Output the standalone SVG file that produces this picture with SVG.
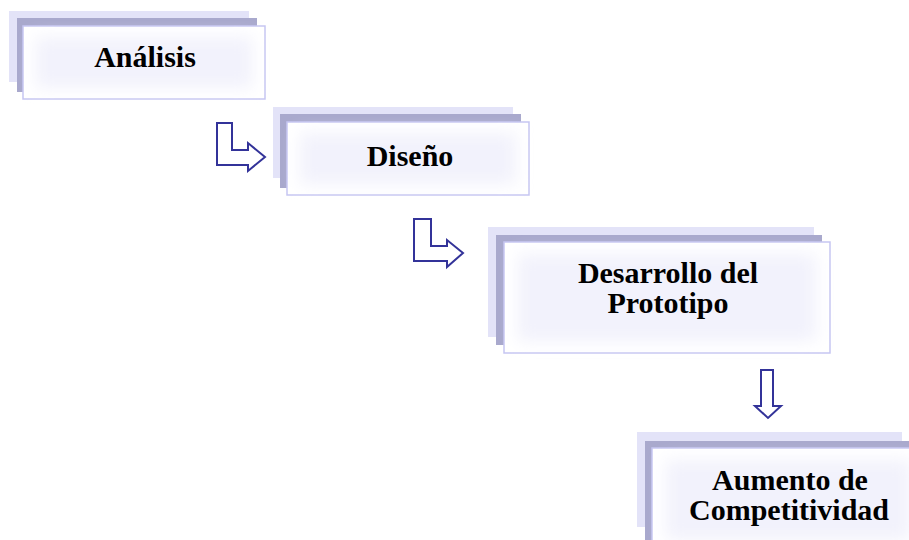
<svg xmlns="http://www.w3.org/2000/svg" width="909" height="540" viewBox="0 0 909 540">
<style>
.back{fill:#e3e3f8}
.mid{fill:#a9a9cd}
.front{fill:#ffffff;stroke:#c6c6f2;stroke-width:1.5}
.glow{fill:#f2f2fc;filter:url(#blur)}
.lbl{font-family:"Liberation Serif","Times New Roman",serif;font-weight:bold;font-size:30px;fill:#000;text-anchor:middle}
.arr{fill:#ffffff;stroke:#333399;stroke-width:2;stroke-linejoin:miter}
</style>
<defs>
<filter id="blur" x="-20%" y="-30%" width="140%" height="160%"><feGaussianBlur stdDeviation="8"/></filter>
</defs>
<rect width="909" height="540" fill="#ffffff"/>
<g id="n1">
<rect class="back" x="9" y="11" width="240" height="71"/>
<rect class="mid" x="17" y="18" width="240" height="74"/>
<rect class="front" x="23" y="26" width="242" height="73"/>
<rect class="glow" x="36" y="37" width="216" height="51"/>
<text class="lbl" x="145" y="67">Análisis</text>
</g>
<g id="n2">
<rect class="back" x="273" y="107" width="240" height="71"/>
<rect class="mid" x="280" y="114" width="241" height="74"/>
<rect class="front" x="287" y="122" width="242" height="73"/>
<rect class="glow" x="300" y="133" width="216" height="51"/>
<text class="lbl" x="410" y="166">Diseño</text>
</g>
<g id="n3">
<rect class="back" x="488" y="227" width="326" height="110"/>
<rect class="mid" x="496" y="235" width="326" height="110"/>
<rect class="front" x="504" y="242" width="326" height="111"/>
<rect class="glow" x="518" y="254" width="298" height="87"/>
<text class="lbl" x="668" y="283">Desarrollo del</text>
<text class="lbl" x="668" y="313">Prototipo</text>
</g>
<g id="n4">
<rect class="back" x="637" y="432" width="265" height="95"/>
<rect class="mid" x="645" y="441" width="270" height="99"/>
<rect class="front" x="652" y="448" width="270" height="100"/>
<rect class="glow" x="666" y="460" width="244" height="80"/>
<text class="lbl" x="790" y="490">Aumento de</text>
<text class="lbl" x="789" y="520">Competitividad</text>
</g>
<g id="connectors">
<polygon class="arr" points="217,123 232,123 232,150 248,150 248,143 265,157 248,171 248,165 217,165"/>
<polygon class="arr" points="414,219 431,219 431,246 447,246 447,240 463,253 447,267 447,261 414,261"/>
<polygon class="arr" points="761,370 773,370 773,406 781,406 768,418 755,406 761,406"/>
</g>
</svg>
